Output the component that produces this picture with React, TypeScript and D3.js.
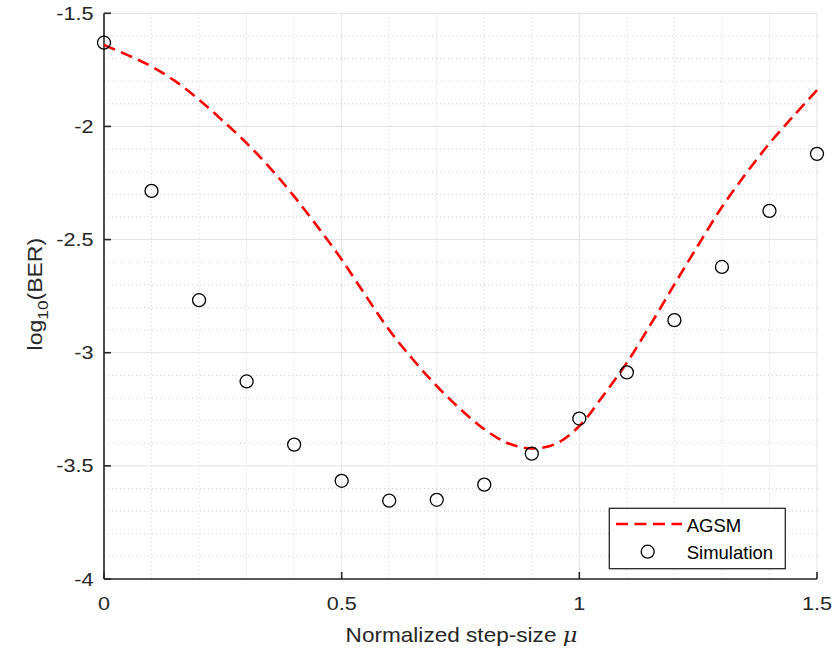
import React from "react";
import * as d3 from "d3";

const simX = [0, 0.1, 0.2, 0.3, 0.4, 0.5, 0.6, 0.7, 0.8, 0.9, 1.0, 1.1, 1.2, 1.3, 1.4, 1.5];
const simY = [-1.63, -2.285, -2.768, -3.127, -3.406, -3.566, -3.654, -3.65, -3.583, -3.446, -3.291, -3.087, -2.856, -2.621, -2.373, -2.121];

const agsmX = [0, 0.05, 0.1, 0.15, 0.2, 0.25, 0.3, 0.35, 0.4, 0.45, 0.5, 0.55, 0.6, 0.65, 0.7, 0.75, 0.8, 0.85, 0.9, 0.95, 1.0, 1.05, 1.1, 1.15, 1.2, 1.25, 1.3, 1.35, 1.4, 1.45, 1.5];
const agsmY = [-1.64, -1.685, -1.735, -1.8, -1.882, -1.975, -2.074, -2.185, -2.309, -2.445, -2.588, -2.746, -2.9, -3.03, -3.147, -3.25, -3.338, -3.4, -3.423, -3.403, -3.324, -3.19, -3.044, -2.875, -2.698, -2.525, -2.356, -2.21, -2.075, -1.955, -1.84];

const xTicks = [0, 0.5, 1, 1.5];
const xTickLabels = ["0", "0.5", "1", "1.5"];
const yTicks = [-1.5, -2, -2.5, -3, -3.5, -4];
const yTickLabels = ["-1.5", "-2", "-2.5", "-3", "-3.5", "-4"];
const legendLabels = ["AGSM", "Simulation"];

const W = 834, H = 649;
const L = 104, R = 817, T = 13.3, B = 579;
const FONT = "'Liberation Sans', Arial, Helvetica, sans-serif";
const TXT = "#262626";

function SText(props: { x: number; y: number; anchor: string; size: number; sx: number; children: React.ReactNode; rotate?: number }) {
  const { x, y, anchor, size, sx, children, rotate } = props;
  return (
    <g transform={`translate(${x},${y}) rotate(${rotate || 0}) scale(${sx},1)`}>
      <text x={0} y={0} textAnchor={anchor} fontFamily={FONT} fontSize={size} fill={TXT}>
        {children}
      </text>
    </g>
  );
}

export default function App() {
  const x = d3.scaleLinear().domain([0, 1.5]).range([L, R]);
  const y = d3.scaleLinear().domain([-4, -1.5]).range([B, T]);
  const minorX = d3.range(1, 15).filter((k) => k % 5 !== 0).map((k) => k / 10);
  const minorY = d3.range(16, 40).filter((k) => k % 5 !== 0).map((k) => -k / 10);
  const line = d3
    .line<number>()
    .x((_, i) => x(agsmX[i]))
    .y((d) => y(d))
    .curve(d3.curveCatmullRom.alpha(0.5));

  return (
    <svg width={W} height={H} style={{ position: "absolute", left: 0, top: 0, background: "#fff" }}>
      <rect x={0} y={0} width={W} height={H} fill="#fff" />
      {/* minor grid */}
      {minorX.map((v, i) => (
        <line key={"mx" + i} x1={x(v)} x2={x(v)} y1={T} y2={B} stroke="#c4c4c4" strokeWidth={0.8} strokeDasharray="1,3" />
      ))}
      {minorY.map((v, i) => (
        <line key={"my" + i} x1={L} x2={R} y1={y(v)} y2={y(v)} stroke="#c4c4c4" strokeWidth={0.8} strokeDasharray="1,3" />
      ))}
      {/* major grid */}
      {xTicks.map((v, i) => (
        <line key={"gx" + i} x1={x(v)} x2={x(v)} y1={T} y2={B} stroke="#e3e3e3" strokeWidth={1} />
      ))}
      {yTicks.map((v, i) => (
        <line key={"gy" + i} x1={L} x2={R} y1={y(v)} y2={y(v)} stroke="#e3e3e3" strokeWidth={1} />
      ))}
      {/* axes */}
      <line x1={L} x2={L} y1={T} y2={B} stroke="#262626" strokeWidth={1.6} />
      <line x1={L} x2={R} y1={B} y2={B} stroke="#262626" strokeWidth={1.6} />
      {xTicks.map((v, i) => (
        <line key={"tx" + i} x1={x(v)} x2={x(v)} y1={B} y2={B - 7} stroke="#262626" strokeWidth={1.6} />
      ))}
      {yTicks.map((v, i) => (
        <line key={"ty" + i} x1={L} x2={L + 7} y1={y(v)} y2={y(v)} stroke="#262626" strokeWidth={1.6} />
      ))}
      {/* tick labels */}
      {xTicks.map((v, i) => (
        <SText key={"lx" + i} x={x(v)} y={609.5} anchor="middle" size={18} sx={1.2}>
          {xTickLabels[i]}
        </SText>
      ))}
      {yTicks.map((v, i) => (
        <SText key={"ly" + i} x={93.5} y={y(v) + 6.5} anchor="end" size={18} sx={1.2}>
          {yTickLabels[i]}
        </SText>
      ))}
      {/* axis labels */}
      <SText x={x(0.75) + 1} y={641.5} anchor="middle" size={20} sx={1.13}>
        Normalized step-size <tspan fontFamily="'DejaVu Serif', serif" fontStyle="italic">μ</tspan>
      </SText>
      <SText x={42} y={y(-2.75) - 2} anchor="middle" size={20} sx={1.15} rotate={-90}>
        log<tspan fontSize={15} dy={6}>10</tspan><tspan dy={-6}>(BER)</tspan>
      </SText>
      {/* AGSM curve */}
      <path d={line(agsmY) || ""} fill="none" stroke="#ff0000" strokeWidth={2.6} strokeDasharray="12,6.5" />
      {/* simulation markers */}
      {simX.map((v, i) => (
        <circle key={"c" + i} cx={x(v)} cy={y(simY[i])} r={6.5} fill="none" stroke="#000" strokeWidth={1.3} />
      ))}
      {/* legend */}
      <rect x={609.3} y={508.3} width={176} height={60.4} fill="#fff" stroke="#262626" strokeWidth={1.3} />
      <line x1={616} x2={682} y1={524} y2={524} stroke="#ff0000" strokeWidth={2.6} strokeDasharray="12,6.5" />
      <circle cx={647.7} cy={551.7} r={6.5} fill="none" stroke="#000" strokeWidth={1.3} />
      <text x={686.7} y={531.5} fontFamily={FONT} fontSize={18.5} fill="#000">{legendLabels[0]}</text>
      <text x={686.7} y={559} fontFamily={FONT} fontSize={18.5} fill="#000">{legendLabels[1]}</text>
    </svg>
  );
}
